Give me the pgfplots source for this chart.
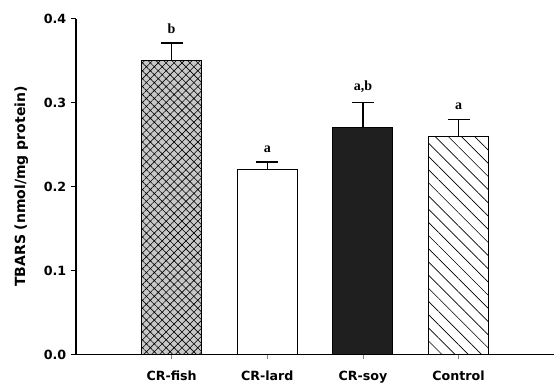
\documentclass[border=0pt]{standalone}
\usepackage{fontspec}
\setmainfont{DejaVu Sans}
\newfontfamily\serifb{Liberation Serif}
\usepackage{pgfplots}
\pgfplotsset{compat=1.18}
\usetikzlibrary{patterns,patterns.meta}
\definecolor{fishgray}{RGB}{200,200,200}
\begin{document}
\begin{tikzpicture}
\begin{axis}[
  width=359pt, height=252pt, scale only axis,
  xmin=-1, xmax=4, ymin=0, ymax=0.4,
  axis lines*=left,
  axis line style={line width=1.1pt},
  xtick={0,1,2,3},
  xticklabels={CR-fish,CR-lard,CR-soy,Control},
  ytick={0,0.1,0.2,0.3,0.4},
  yticklabel style={/pgf/number format/.cd,fixed,fixed zerofill,precision=1,assume math mode=true},
  ticklabel style={font=\bfseries\fontsize{9.5}{11}\selectfont},
  tick align=outside,
  major tick length=3.75pt,
  tick style={line width=0.9pt, black},
  xtick style={line width=0.5pt, gray},
  xticklabel style={yshift=-5pt},
  ylabel={TBARS (nmol/mg protein)},
  ylabel style={font=\bfseries\fontsize{10.5}{12}\selectfont, at={(axis description cs:0,0.5)}, anchor=center, rotate=0, yshift=41pt},
  ybar, bar width=45pt, bar shift=0pt,
  error bars/y dir=plus, error bars/y explicit,
  error bars/error bar style={line width=1.1pt, black},
  error bars/error mark options={rotate=90, mark size=8.25pt, line width=1.1pt, black},
  clip=false,
]
\addplot[draw=black, line width=0.75pt, fill=fishgray,
  postaction={pattern={Hatch[angle=45,distance=4.2pt,line width=0.45pt]}, pattern color=black}]
  coordinates {(0,0.35) +- (0,0.021)};
\addplot[draw=black, line width=0.75pt, fill=white]
  coordinates {(1,0.22) +- (0,0.009)};
\addplot[draw=black, line width=0.75pt, fill=black!88]
  coordinates {(2,0.27) +- (0,0.030)};
\addplot[draw=black, line width=0.75pt, fill=white,
  postaction={pattern={Lines[angle=-45,distance=7pt,line width=0.5pt]}, pattern color=black}]
  coordinates {(3,0.26) +- (0,0.020)};
\begin{scope}[every node/.style={font=\serifb\bfseries\fontsize{10.5}{12}\selectfont, anchor=south, inner sep=0pt}]
\node at (axis cs:0,0.371) [yshift=7pt] {b};
\node at (axis cs:1,0.229) [yshift=7pt] {a};
\node at (axis cs:2,0.300) [yshift=7pt] {a,b};
\node at (axis cs:3,0.280) [yshift=7pt] {a};
\end{scope}
\path (axis description cs:0,0) ++(-57pt,0pt) coordinate (bbL);
\path (axis description cs:0,1) ++(0pt,14pt) coordinate (bbT);
\end{axis}
\end{tikzpicture}
\end{document}
